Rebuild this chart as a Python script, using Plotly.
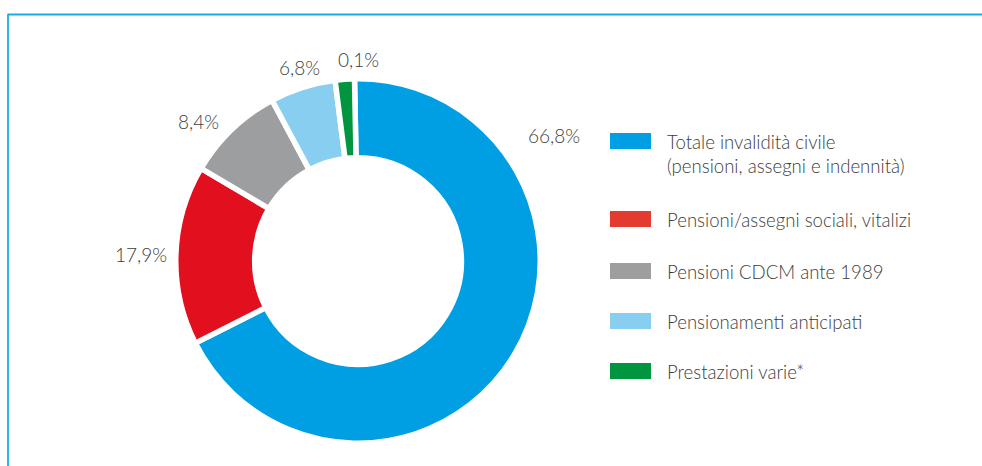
import plotly.graph_objects as go

# ---- data ----
categories = [
    "Totale invalidità civile<br>(pensioni, assegni e indennità)",
    "Pensioni/assegni sociali, vitalizi",
    "Pensioni CDCM ante 1989",
    "Pensionamenti anticipati",
    "Prestazioni varie*",
]
# printed percentages
pct_labels = ["66,8%", "17,9%", "8,4%", "6,8%", "0,1%"]
# slice sizes as drawn in the graphic (degrees of arc converted to %)
drawn_share = [67.8, 15.9, 8.7, 5.8, 1.7]

slice_colors = ["#009FE3", "#E2101E", "#9C9E9F", "#87CEF0", "#00953E"]
legend_colors = ["#009FE3", "#E43B30", "#9C9E9F", "#87CEF0", "#00953E"]

# ---- layout positions (pixels in a 982x466 page) ----
W, H = 982, 466
label_xy = [(554, 135), (141, 255), (198, 122), (299, 67), (358, 60)]
legend_rect_top = [133, 211, 263, 313, 363]
TEXT_COLOR = "#3C3C3B"
FONT = "Lato"

def px(x):
    return x / W

def py(y):
    return 1 - y / H

cx, cy, r = 358, 261, 182.25
fig = go.Figure(
    go.Pie(
        labels=categories,
        values=drawn_share,
        sort=False,
        direction="clockwise",
        rotation=-1.1,
        hole=0.567,
        marker=dict(colors=slice_colors, line=dict(color="white", width=5.5)),
        textinfo="none",
        hoverinfo="label+text",
        text=pct_labels,
        showlegend=False,
        domain=dict(x=[px(cx - r), px(cx + r)], y=[py(cy + r), py(cy - r)]),
    )
)

annotations = []
for (lx, ly), t in zip(label_xy, pct_labels):
    annotations.append(dict(
        x=px(lx), y=py(ly), xref="paper", yref="paper", text=t, showarrow=False,
        xanchor="center", yanchor="middle",
        font=dict(family=FONT, size=19, color=TEXT_COLOR, weight=300),
    ))

shapes = [
    dict(type="line", xref="paper", yref="paper", x0=px(7.5), x1=1, y0=py(14.5), y1=py(14.5),
         line=dict(color="#14ACE6", width=1.8)),
    dict(type="line", xref="paper", yref="paper", x0=px(8), x1=px(8), y0=py(14.5), y1=0,
         line=dict(color="#14ACE6", width=1.8)),
]
for top, col, name in zip(legend_rect_top, legend_colors, categories):
    shapes.append(dict(type="rect", xref="paper", yref="paper",
                       x0=px(610), x1=px(651), y0=py(top + 16), y1=py(top),
                       fillcolor=col, line=dict(width=0)))
    annotations.append(dict(
        x=px(665), y=py(top - 4), xref="paper", yref="paper", text=name, showarrow=False,
        xanchor="left", yanchor="top", align="left",
        font=dict(family=FONT, size=18.6, color=TEXT_COLOR, weight=300),
    ))

fig.update_layout(
    width=W, height=H,
    margin=dict(l=0, r=0, t=0, b=0),
    paper_bgcolor="white", plot_bgcolor="white",
    annotations=annotations, shapes=shapes,
)

fig.write_html(
    "out.html",
    config={"displayModeBar": False},
    post_script="document.body.style.margin='0px';document.body.style.overflow='hidden';",
)
